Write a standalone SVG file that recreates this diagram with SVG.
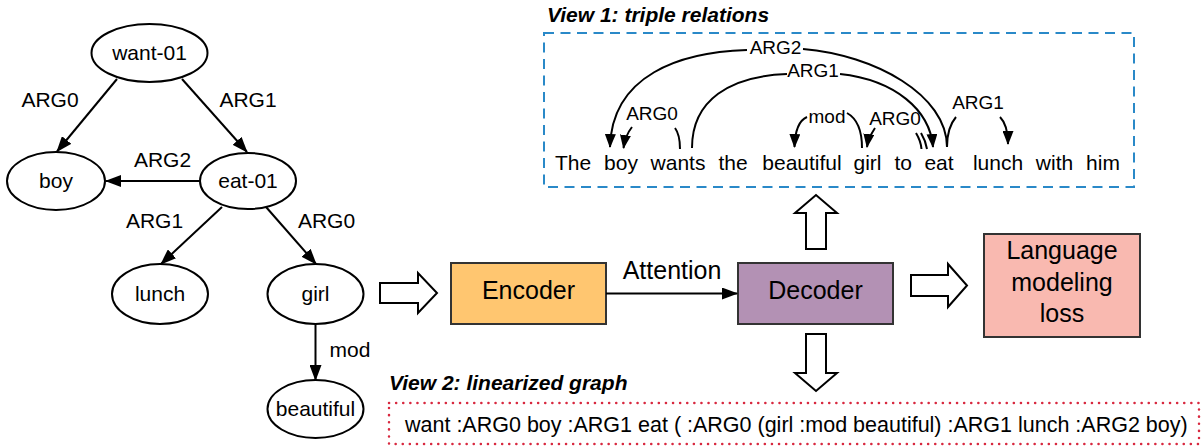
<svg xmlns="http://www.w3.org/2000/svg" width="1203" height="448" viewBox="0 0 1203 448">
<style>
text{font-family:'Liberation Sans',Arial,sans-serif;fill:#000}
.node{fill:#fff;stroke:#000;stroke-width:2}
.nl{font-size:21px;text-anchor:middle}
.el{font-size:21px;text-anchor:middle}
.edge{fill:none;stroke:#000;stroke-width:2}
.arc{fill:none;stroke:#000;stroke-width:2}
.al{font-size:19px;text-anchor:middle}
.word{font-size:21px;text-anchor:middle}
.box{stroke:#333;stroke-width:2}
.bl{font-size:25px;text-anchor:middle}
.hollow{fill:#fff;stroke:#000;stroke-width:2;stroke-linejoin:miter}
.title{font-size:21px;font-weight:bold;font-style:italic}
</style>
<defs>
<marker id="ah" viewBox="0 0 16 12" markerWidth="16" markerHeight="12" refX="15" refY="6" orient="auto" markerUnits="userSpaceOnUse">
<path d="M0,0 L16,6 L0,12 z" fill="#000"/>
</marker>
<marker id="ahs" viewBox="0 0 14 11" markerWidth="14" markerHeight="11" refX="13" refY="5.5" orient="auto" markerUnits="userSpaceOnUse">
<path d="M0,0 L14,5.5 L0,11 z" fill="#000"/>
</marker>
</defs>

<!-- AMR graph nodes -->
<g id="want01"><ellipse class="node" cx="149.5" cy="53" rx="58" ry="29"/><text class="nl" x="149.5" y="60">want-01</text></g>
<g id="boy"><ellipse class="node" cx="56" cy="181" rx="49" ry="29"/><text class="nl" x="56" y="188">boy</text></g>
<g id="eat01"><ellipse class="node" cx="248" cy="181" rx="48" ry="28"/><text class="nl" x="248" y="188">eat-01</text></g>
<g id="lunch"><ellipse class="node" cx="160" cy="294" rx="48" ry="30"/><text class="nl" x="160" y="301">lunch</text></g>
<g id="girl"><ellipse class="node" cx="315.5" cy="294" rx="48" ry="30"/><text class="nl" x="315.5" y="301">girl</text></g>
<g id="beautiful"><ellipse class="node" cx="315.5" cy="409" rx="48" ry="29"/><text class="nl" x="315.5" y="416">beautiful</text></g>

<!-- Model blocks -->
<g id="encoder"><rect class="box" x="451" y="263" width="155" height="61" fill="#FFC670"/><text class="bl" x="528.5" y="299">Encoder</text></g>
<g id="decoder"><rect class="box" x="738" y="263" width="155" height="61" fill="#B391B4"/><text class="bl" x="815.5" y="299">Decoder</text></g>
<g id="lm-loss"><rect class="box" x="984" y="234" width="156" height="103" fill="#F9B9B0"/>
<text class="bl" x="1062" y="259">Language</text><text class="bl" x="1062" y="290.5">modeling</text><text class="bl" x="1062" y="321.5">loss</text></g>

<!-- View 1 -->
<g id="view1">
<text class="title" x="547" y="22">View 1: triple relations</text>
<rect x="544" y="33" width="590" height="154" fill="none" stroke="#2A89C8" stroke-width="2" stroke-dasharray="10 6.5"/>
<text class="word" x="573" y="170">The</text>
<text class="word" x="621" y="170">boy</text>
<text class="word" x="678" y="170">wants</text>
<text class="word" x="733" y="170">the</text>
<text class="word" x="802" y="170">beautiful</text>
<text class="word" x="867.5" y="170">girl</text>
<text class="word" x="903.3" y="170">to</text>
<text class="word" x="939" y="170">eat</text>
<text class="word" x="998" y="170">lunch</text>
<text class="word" x="1054.5" y="170">with</text>
<text class="word" x="1103" y="170">him</text>
</g>

<!-- View 2 -->
<g id="view2">
<text class="title" x="389" y="390">View 2: linearized graph</text>
<rect x="389" y="403" width="810" height="41" fill="none" stroke="#D8283F" stroke-width="2.5" stroke-linecap="round" stroke-dasharray="0.1 7"/>
<text x="405" y="432" style="font-size:21.5px">want :ARG0 boy :ARG1 eat ( :ARG0 (girl :mod beautiful) :ARG1 lunch :ARG2 boy)</text>
</g>

<!-- Connectors -->
<g id="connectors">
<!-- AMR edges -->
<line class="edge" x1="117" y1="79" x2="57" y2="151.5" marker-end="url(#ah)"/>
<line class="edge" x1="182" y1="79" x2="247" y2="152" marker-end="url(#ah)"/>
<line class="edge" x1="200" y1="181" x2="106" y2="181" marker-end="url(#ah)"/>
<line class="edge" x1="222" y1="207" x2="161" y2="264" marker-end="url(#ah)"/>
<line class="edge" x1="266" y1="207" x2="316" y2="264" marker-end="url(#ah)"/>
<line class="edge" x1="315.5" y1="324" x2="315.5" y2="380" marker-end="url(#ah)"/>
<text class="el" x="50" y="107">ARG0</text>
<text class="el" x="248" y="107">ARG1</text>
<text class="el" x="162.5" y="167">ARG2</text>
<text class="el" x="154.5" y="228">ARG1</text>
<text class="el" x="326.5" y="228">ARG0</text>
<text class="el" x="350" y="357">mod</text>

<!-- Attention -->
<line class="edge" x1="606" y1="293.5" x2="737" y2="293.5" marker-end="url(#ah)"/>
<text class="bl" x="672" y="279">Attention</text>

<!-- Hollow block arrows -->
<polygon class="hollow" points="380,283 418,283 418,273 437,293 418,313 418,303 380,303"/>
<polygon class="hollow" points="911,275 948,275 948,264 967,285.5 948,307 948,296 911,296"/>
<polygon class="hollow" points="806,249 806,213 795,213 816,195 837,213 826,213 826,249"/>
<polygon class="hollow" points="806,334 806,373 795,373 816,391 837,373 826,373 826,334"/>

<!-- View 1 arcs -->
<path class="arc" d="M947,147 C947,95 875,55 803,49 M747,50 C680,52 612,75 610,147" marker-end="url(#ahs)"/>
<text class="al" x="775.5" y="54">ARG2</text>
<path class="arc" d="M692,148 C692,100 730,76 787,74 M840,74 C895,80 930,110 933,147" marker-end="url(#ahs)"/>
<text class="al" x="813" y="77">ARG1</text>
<path class="arc" d="M680,149 C680,138 678,132 675,128 M632,127 C628,132 625,138 623.5,148" marker-end="url(#ahs)"/>
<text class="al" x="652" y="120">ARG0</text>
<path class="arc" d="M862,148 C862,130 856,118 847,113 M807,117 C800,120 795,130 794.5,147" marker-end="url(#ahs)"/>
<text class="al" x="827" y="123">mod</text>
<path class="arc" d="M921.5,149 C921,143 919,138 916,133" />
<path class="arc" d="M927,149 C926,143 924,138 921,133 M875,128 C871,134 868,140 867,147" marker-end="url(#ahs)"/>
<text class="al" x="895" y="125">ARG0</text>
<path class="arc" d="M947,147 C947,132 950,124 956,117 M1000,117 C1005,122 1008,130 1008,144" marker-end="url(#ahs)"/>
<text class="al" x="978" y="109">ARG1</text>
</g>
</svg>
